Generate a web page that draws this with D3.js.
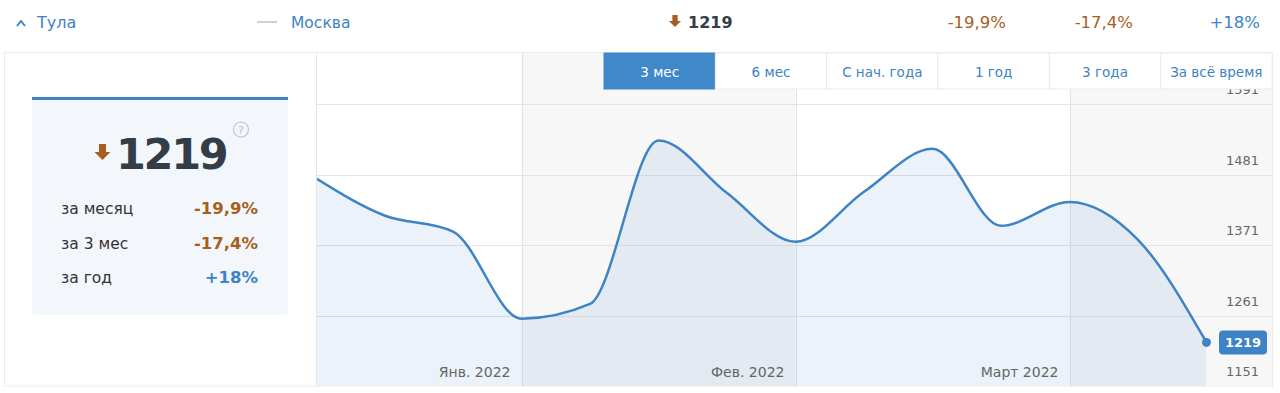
<!DOCTYPE html>
<html>
<head>
<meta charset="utf-8">
<script src="https://cdn.jsdelivr.net/npm/d3@7"></script>
<style>
  html, body { margin: 0; padding: 0; background: #fff; }
  svg { display: block; font-family: "DejaVu Sans", Verdana, sans-serif; }
</style>
</head>
<body>
<div id="chart"></div>
<script>
  // weekly index -> price
  const values = [1475, 1417, 1392, 1256, 1279, 1534, 1452, 1376, 1454, 1521, 1401, 1438, 1379, 1219];
  const monthLabels = ["Янв. 2022", "Фев. 2022", "Март 2022"];
  const monthEnds = [3, 7, 11]; // index where the next month starts
  const yTicks = [1151, 1261, 1371, 1481, 1591];
  const periods = ["3 мес", "6 мес", "С нач. года", "1 год", "3 года", "За всё время"];
  const statLabels = ["за месяц", "за 3 мес", "за год"];
  const statValues = ["-19,9%", "-17,4%", "+18%"];
  const cityName = "Тула";
  const compareName = "Москва";
  const current = 1219;

  const width = 1280, height = 393;
  const plot = { left: 316, right: 1272, top: 53, bottom: 386 };
  const blue = "#3d83c5", brown = "#a65f1e", dark = "#333d48";

  const svg = d3.select("#chart").append("svg")
    .attr("width", width).attr("height", height)
    .attr("viewBox", [0, 0, width, height]);

  const x = d3.scaleLinear().domain([0, values.length - 1]).range([plot.left, 1206.5]);
  const y = d3.scaleLinear().domain([1151, 1591]).range([plot.bottom, 104]);

  const isUp = s => s.startsWith("+");

  // ---- top bar
  const bar = svg.append("g");
  bar.append("path").attr("d", "M17,26 L21,21 L25,26")
    .attr("fill", "none").attr("stroke", blue).attr("stroke-width", 2);
  bar.append("text").attr("x", 37).attr("y", 28).attr("font-size", 16)
    .attr("fill", blue).text(cityName);
  bar.append("line").attr("x1", 257).attr("x2", 277).attr("y1", 22).attr("y2", 22)
    .attr("stroke", "#d0d0d0").attr("stroke-width", 2);
  bar.append("text").attr("x", 291).attr("y", 28).attr("font-size", 15.5)
    .attr("fill", blue).text(compareName);

  function downArrow(g, cx, ty, s) {
    g.append("path")
      .attr("d", `M${cx - s * 0.22},${ty} h${s * 0.44} v${s * 0.5} h${s * 0.28} L${cx},${ty + s} L${cx - s * 0.5},${ty + s * 0.5} h${s * 0.28} Z`)
      .attr("fill", brown);
  }
  downArrow(bar, 675, 15, 12);
  bar.append("text").attr("x", 688).attr("y", 28).attr("font-size", 16)
    .attr("font-weight", "bold").attr("fill", dark).text(current);

  bar.selectAll("text.pct").data(statValues).join("text")
    .attr("class", "pct")
    .attr("x", (d, i) => [1006, 1133, 1260][i])
    .attr("y", 28).attr("text-anchor", "end").attr("font-size", 16.5)
    .attr("fill", d => isUp(d) ? blue : brown)
    .text(d => d);

  // ---- card frame
  svg.append("rect").attr("x", 4.5).attr("y", plot.top - 0.5)
    .attr("width", plot.right - 4).attr("height", plot.bottom - plot.top + 0.5)
    .attr("fill", "#fff").attr("stroke", "#ececec");

  // ---- info panel
  const info = svg.append("g");
  info.append("rect").attr("x", 32).attr("y", 97).attr("width", 256).attr("height", 218)
    .attr("rx", 4).attr("fill", "#f3f7fc");
  info.append("rect").attr("x", 32).attr("y", 97).attr("width", 256).attr("height", 3)
    .attr("fill", blue);
  downArrow(info, 102.5, 144, 16);
  info.append("text").attr("x", 116).attr("y", 169).attr("font-size", 43)
    .attr("font-weight", "bold").attr("letter-spacing", -2.3).attr("fill", dark).text(current);
  info.append("circle").attr("cx", 241).attr("cy", 129.5).attr("r", 7.5)
    .attr("fill", "none").attr("stroke", "#c4c4c4").attr("stroke-width", 1.2);
  info.append("text").attr("x", 241).attr("y", 133.5).attr("text-anchor", "middle")
    .attr("font-size", 11).attr("fill", "#bdbdbd").text("?");

  const rowY = d3.scalePoint().domain(statLabels).range([214, 283]);
  info.selectAll("text.lbl").data(statLabels).join("text")
    .attr("class", "lbl").attr("x", 61).attr("y", d => rowY(d))
    .attr("font-size", 15.5).attr("fill", "#333").text(d => d);
  info.selectAll("text.val").data(statValues).join("text")
    .attr("class", "val").attr("x", 258).attr("y", (d, i) => rowY(statLabels[i]))
    .attr("text-anchor", "end").attr("font-size", 16.5).attr("font-weight", "bold")
    .attr("fill", d => isUp(d) ? blue : brown).text(d => d);

  // ---- plot
  svg.append("clipPath").attr("id", "clip").append("rect")
    .attr("x", plot.left).attr("y", plot.top)
    .attr("width", plot.right - plot.left).attr("height", plot.bottom - plot.top);
  const g = svg.append("g").attr("clip-path", "url(#clip)");

  const bandEdges = [x(-10), ...monthEnds.map(x), plot.right];
  const bands = d3.pairs(bandEdges).map(([a, b], i) => ({ a, b, i }));
  g.selectAll("rect.band").data(bands).join("rect")
    .attr("x", d => d.a).attr("y", plot.top)
    .attr("width", d => d.b - d.a).attr("height", plot.bottom - plot.top)
    .attr("fill", d => d.i % 2 ? "#f7f7f7" : "#fff");

  g.selectAll("line.grid").data(yTicks.slice(1)).join("line")
    .attr("x1", plot.left).attr("x2", plot.right)
    .attr("y1", d => Math.round(y(d)) + 0.5).attr("y2", d => Math.round(y(d)) + 0.5)
    .attr("stroke", "#e4e4e4");
  g.selectAll("line.vgrid").data(monthEnds).join("line")
    .attr("x1", d => Math.round(x(d)) + 0.5).attr("x2", d => Math.round(x(d)) + 0.5)
    .attr("y1", plot.top).attr("y2", plot.bottom)
    .attr("stroke", "#e2e2e2");

  const curve = d3.curveMonotoneX;
  g.append("path").datum(values)
    .attr("d", d3.area().x((d, i) => x(i)).y0(plot.bottom).y1(d => y(d)).curve(curve))
    .attr("fill", "rgba(60,130,200,0.1)");
  g.append("path").datum(values)
    .attr("d", d3.line().x((d, i) => x(i)).y(d => y(d)).curve(curve))
    .attr("fill", "none").attr("stroke", blue).attr("stroke-width", 2.5);

  g.selectAll("text.month").data(monthLabels).join("text")
    .attr("class", "month")
    .attr("x", (d, i) => x(monthEnds[i]) - 11).attr("y", 377)
    .attr("text-anchor", "end").attr("font-size", 14).attr("fill", "#666").text(d => d);

  g.selectAll("text.ytick").data(yTicks).join("text")
    .attr("class", "ytick").attr("x", 1259).attr("y", d => y(d) - 10)
    .attr("text-anchor", "end").attr("font-size", 13).attr("fill", "#666").text(d => d);

  // last point + badge
  const last = values.length - 1;
  g.append("circle").attr("cx", x(last)).attr("cy", y(values[last])).attr("r", 4.5).attr("fill", blue);
  g.append("rect").attr("x", 1219).attr("y", y(values[last]) - 12).attr("width", 48).attr("height", 24)
    .attr("rx", 4).attr("fill", blue);
  g.append("text").attr("x", 1243).attr("y", y(values[last]) + 4.5).attr("text-anchor", "middle")
    .attr("font-size", 13).attr("font-weight", "bold").attr("fill", "#fff").text(values[last]);

  // left border of plot
  svg.append("line").attr("x1", plot.left + 0.5).attr("x2", plot.left + 0.5)
    .attr("y1", plot.top).attr("y2", plot.bottom).attr("stroke", "#e6e6e6");

  // ---- period buttons
  const bx = d3.scaleBand().domain(periods).range([604, plot.right]);
  const btn = svg.append("g").selectAll("g").data(periods).join("g")
    .attr("transform", d => `translate(${bx(d)},${plot.top})`);
  btn.append("rect").attr("width", bx.bandwidth()).attr("height", 36)
    .attr("fill", (d, i) => i === 0 ? "#3f88ca" : "#fff")
    .attr("stroke", (d, i) => i === 0 ? "#3f88ca" : "#ebebeb");
  btn.append("text").attr("x", bx.bandwidth() / 2).attr("y", 24)
    .attr("text-anchor", "middle").attr("font-size", 13.5)
    .attr("fill", (d, i) => i === 0 ? "#fff" : blue).text(d => d);
</script>
</body>
</html>
